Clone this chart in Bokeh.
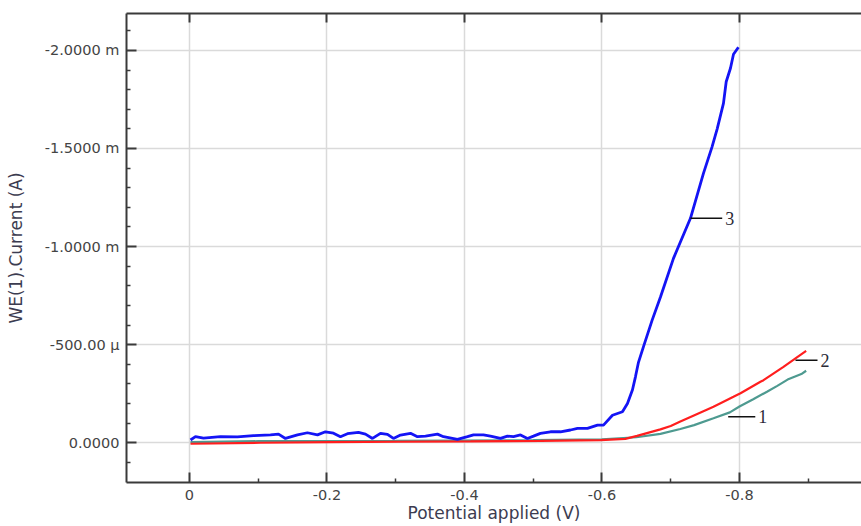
from bokeh.plotting import figure
from bokeh.models import Range1d, LinearAxis, FixedTicker, Grid
from bokeh.embed import file_html
from bokeh.resources import INLINE
from bokeh.core.properties import value

# ---- data (potential in V, current in mA) ----
blue_v = [-0.0015, -0.0087, -0.0204, -0.0451, -0.0698, -0.0931, -0.1178, -0.1295, -0.1396,
          -0.1571, -0.1716, -0.1862, -0.1978, -0.2095, -0.2196, -0.2298, -0.2458, -0.2560,
          -0.2662, -0.2778, -0.2880, -0.2967, -0.3069, -0.3215, -0.3316, -0.3433, -0.3607,
          -0.3695, -0.3898, -0.4044, -0.4131, -0.4276, -0.4378, -0.4524, -0.4625, -0.4713,
          -0.4815, -0.4916, -0.5004, -0.5105, -0.5251, -0.5396, -0.5542, -0.5644, -0.5789,
          -0.5935, -0.6022, -0.6153, -0.6298, -0.6371, -0.6444, -0.6487, -0.6531, -0.6604,
          -0.6730, -0.6851, -0.7040, -0.7287, -0.7476, -0.7600, -0.7676, -0.7767, -0.7807,
          -0.7870, -0.7913, -0.7985]
blue_i = [-0.014, -0.031, -0.024, -0.031, -0.030, -0.036, -0.040, -0.044, -0.022,
          -0.040, -0.051, -0.040, -0.056, -0.049, -0.031, -0.046, -0.053, -0.044,
          -0.022, -0.048, -0.043, -0.022, -0.039, -0.048, -0.031, -0.034, -0.044,
          -0.031, -0.017, -0.031, -0.040, -0.040, -0.034, -0.022, -0.034, -0.031,
          -0.040, -0.022, -0.034, -0.048, -0.056, -0.056, -0.065, -0.073, -0.073,
          -0.090, -0.090, -0.140, -0.158, -0.200, -0.270, -0.336, -0.410, -0.490,
          -0.625, -0.743, -0.940, -1.144, -1.373, -1.507, -1.600, -1.730, -1.840,
          -1.910, -1.980, -2.016]

red_v = [-0.0015, -0.103, -0.205, -0.307, -0.409, -0.511, -0.598, -0.634, -0.651, -0.685,
         -0.700, -0.714, -0.7345, -0.7622, -0.7913, -0.8015, -0.8305, -0.835, -0.864,
         -0.8815, -0.897]
red_i = [0.005, 0.000, -0.003, -0.005, -0.007, -0.010, -0.013, -0.020, -0.035, -0.068,
         -0.085, -0.108, -0.140, -0.183, -0.234, -0.252, -0.311, -0.319, -0.387,
         -0.430, -0.468]

green_v = [-0.0015, -0.1, -0.3, -0.5, -0.6, -0.65, -0.685, -0.714, -0.734, -0.7622,
           -0.786, -0.800, -0.820, -0.840, -0.855, -0.870, -0.880, -0.890, -0.897]
green_i = [-0.003, -0.008, -0.010, -0.013, -0.017, -0.028, -0.045, -0.070, -0.090, -0.125,
           -0.155, -0.185, -0.222, -0.260, -0.290, -0.322, -0.336, -0.350, -0.367]

x_ticks = [0, -0.2, -0.4, -0.6, -0.8]
x_tick_labels = ["0", "-0.2", "-0.4", "-0.6", "-0.8"]
x_minor = [-0.1, -0.3, -0.5, -0.7, -0.9]
y_ticks = [0, -0.5, -1.0, -1.5, -2.0]
y_tick_labels = ["0.0000", "-500.00 µ", "-1.0000 m", "-1.5000 m", "-2.0000 m"]
y_minor = [0.1, -0.1, -0.2, -0.3, -0.4, -0.6, -0.7, -0.8, -0.9, -1.1, -1.2, -1.3, -1.4,
           -1.6, -1.7, -1.8, -1.9, -2.1]

annot_text = ["3", "2", "1"]
annot_v0 = [-0.7287, -0.8815, -0.7836]
annot_v1 = [-0.7749, -0.9135, -0.8230]
annot_i = [-1.144, -0.421, -0.132]

# ---- figure ----
p = figure(width=861, height=526, output_backend="svg", toolbar_location=None,
           x_range=Range1d(0.0916, -0.9775), y_range=Range1d(0.2026, -2.188),
           x_axis_location=None, y_axis_location=None,
           min_border_left=126, min_border_right=0, min_border_top=13, min_border_bottom=44)
p.outline_line_color = None
p.background_fill_color = "white"
p.border_fill_color = "white"

xt = FixedTicker(ticks=x_ticks, minor_ticks=x_minor)
yt = FixedTicker(ticks=y_ticks, minor_ticks=y_minor)
xt_top = FixedTicker(ticks=[], minor_ticks=x_ticks)

axis_col = "#3a3a3a"
label_col = "#444444"


def style(ax):
    ax.axis_line_color = axis_col
    ax.axis_line_width = 2
    ax.major_tick_line_color = axis_col
    ax.minor_tick_line_color = axis_col
    ax.major_tick_line_width = 2
    ax.minor_tick_line_width = 1.5
    ax.major_tick_in = 10
    ax.major_tick_out = 0
    ax.minor_tick_in = 4
    ax.minor_tick_out = 0
    ax.major_label_text_font = "DejaVu Sans"
    ax.major_label_text_font_size = "14.5px"
    ax.major_label_text_color = label_col
    ax.axis_label_text_font = "DejaVu Sans"
    ax.axis_label_text_font_size = "17px"
    ax.axis_label_text_font_style = "normal"
    ax.axis_label_text_color = "#3c3c50"


bottom = LinearAxis(ticker=xt, axis_label="Potential applied (V)",
                    major_label_overrides=dict(zip(x_ticks, x_tick_labels)))
style(bottom)
bottom.major_label_standoff = 7
bottom.axis_label_standoff = 0
p.add_layout(bottom, "below")

left = LinearAxis(ticker=yt, axis_label="WE(1).Current (A)",
                  major_label_overrides=dict(zip(y_ticks, y_tick_labels)))
style(left)
left.major_label_standoff = 7
left.axis_label_standoff = 16
p.add_layout(left, "left")

top = LinearAxis(ticker=xt_top)
style(top)
top.minor_tick_in = 9
top.minor_tick_line_width = 2
top.major_label_standoff = 0
p.add_layout(top, "above")

p.add_layout(Grid(dimension=0, ticker=xt, grid_line_color="#dadada", grid_line_width=1.5))
p.add_layout(Grid(dimension=1, ticker=yt, grid_line_color="#dadada", grid_line_width=1.5))

p.line(green_v, green_i, line_color="#4e9a90", line_width=2.2)
p.line(red_v, red_i, line_color="#ff1e1e", line_width=2.2)
p.line(blue_v, blue_i, line_color="#1414f5", line_width=2.8)

p.segment(annot_v0, annot_i, annot_v1, annot_i, line_color="#111111", line_width=1.5)
p.text(annot_v1, annot_i, text=annot_text, x_offset=3,
       text_font=value("Liberation Serif"), text_font_size="18px",
       text_color="#2a2a36", text_align="left", text_baseline="middle")

open("out.html", "w").write(file_html(p, INLINE))
